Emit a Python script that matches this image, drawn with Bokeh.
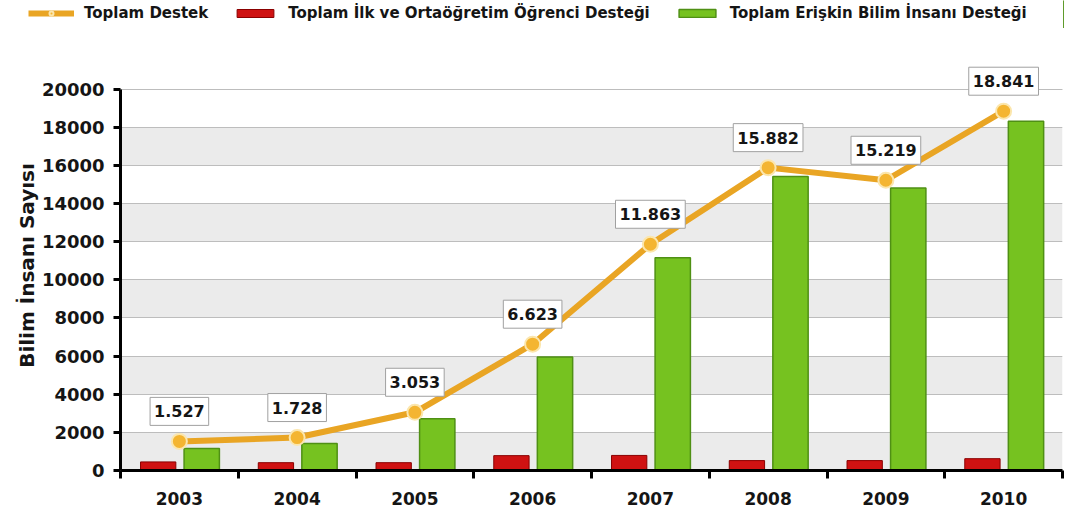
from bokeh.plotting import figure
from bokeh.layouts import column
from bokeh.models import (ColumnDataSource, Range1d, FixedTicker, Legend, LegendItem)
from bokeh.core.properties import value
from bokeh.transform import dodge
from bokeh.embed import file_html
from bokeh.resources import INLINE

years = ["2003", "2004", "2005", "2006", "2007", "2008", "2009", "2010"]
total = [1527, 1728, 3053, 6623, 11863, 15882, 15219, 18841]
student = [450, 410, 410, 780, 790, 520, 520, 620]
adult = [1150, 1420, 2720, 5950, 11150, 15420, 14820, 18320]
total_labels = [f"{v:,}".replace(",", ".") for v in total]
y_ticks = list(range(0, 20001, 2000))
series_names = ["Toplam Destek", "Toplam İlk ve Ortaöğretim Öğrenci Desteği",
                "Toplam Erişkin Bilim İnsanı Desteği"]

xs = [i + 0.5 for i in range(len(years))]
src = ColumnDataSource(dict(x=xs, total=total, student=student, adult=adult, lab=total_labels))

FONT = "DejaVu Sans"
ORANGE, ORANGE_PT, ORANGE_EDGE = "#e9a524", "#f4b531", "#fbe6ad"
RED, RED_EDGE = "#cf1212", "#8a0000"
GREEN, GREEN_EDGE = "#76c220", "#4f9014"


def draw_series(fig):
    r_red = fig.vbar(x=dodge("x", -0.18, range=fig.x_range), top="student", width=0.3, source=src,
                     fill_color=RED, line_color=RED_EDGE, line_width=1)
    r_green = fig.vbar(x=dodge("x", 0.19, range=fig.x_range), top="adult", width=0.3, source=src,
                       fill_color=GREEN, line_color=GREEN_EDGE, line_width=1.5)
    r_line = fig.line(x="x", y="total", source=src, line_color=ORANGE, line_width=6)
    r_pts = fig.scatter(x="x", y="total", source=src, size=15, fill_color=ORANGE_PT,
                        line_color=ORANGE_EDGE, line_width=2)
    return r_red, r_green, r_line, r_pts


p = figure(width=1064, height=484, output_backend="svg", toolbar_location=None,
           x_range=Range1d(0, len(years)), y_range=Range1d(0, 21500),
           min_border_left=120, min_border_right=2, min_border_top=32, min_border_bottom=42)
p.frame_align = False
p.outline_line_color = None
p.background_fill_color = "white"

# grid (end ticks repeated so the shaded bands start at 0 and stop at 20000)
p.xgrid.grid_line_color = None
p.ygrid.ticker = FixedTicker(ticks=[0] + y_ticks + [20000])
p.ygrid.grid_line_color = "#bdbdbd"
p.ygrid.grid_line_width = 1
p.ygrid.band_fill_color = "#ebebeb"
p.ygrid.band_fill_alpha = 1.0

# axes
p.yaxis.ticker = FixedTicker(ticks=y_ticks)
p.yaxis.bounds = (0, 20000)
p.xaxis.ticker = FixedTicker(ticks=xs, minor_ticks=list(range(0, len(years) + 1)))
p.xaxis.major_label_overrides = {x: y for x, y in zip(xs, years)}
for ax in (p.xaxis[0], p.yaxis[0]):
    ax.axis_line_width = 3
    ax.axis_line_color = "black"
    ax.major_label_text_font = FONT
    ax.major_label_text_font_style = "bold"
    ax.major_label_text_color = "#151515"
p.xaxis.major_label_text_font_size = "17px"
p.yaxis.major_label_text_font_size = "18px"
p.xaxis.major_tick_line_color = None
p.xaxis.minor_tick_line_color = "black"
p.xaxis.minor_tick_line_width = 3
p.xaxis.minor_tick_out = 8
p.xaxis.minor_tick_in = 0
p.xaxis.major_label_standoff = 13
p.yaxis.major_tick_line_width = 3
p.yaxis.major_tick_out = 7
p.yaxis.major_tick_in = 0
p.yaxis.minor_tick_line_color = None
p.yaxis.major_label_standoff = 9
p.yaxis.axis_label = "Bilim İnsanı Sayısı"
p.yaxis.axis_label_text_font = FONT
p.yaxis.axis_label_text_font_style = "bold"
p.yaxis.axis_label_text_font_size = "20px"
p.yaxis.axis_label_text_color = "#151515"
p.yaxis.axis_label_standoff = 0

draw_series(p)

p.text(x="x", y="total", text="lab", source=src, y_offset=-30,
       text_align="center", text_baseline="middle",
       text_font=value(FONT), text_font_style="bold", text_font_size="16px",
       text_color="#151515", background_fill_color="white",
       border_line_color="#a0a0a0", border_line_width=1, padding=(4, 8))

# legend strip above the chart (its glyphs fall outside its view; only the legend shows)
lf = figure(width=1064, height=28, output_backend="svg", toolbar_location=None,
            x_range=Range1d(-100, -99), y_range=Range1d(0, 1),
            x_axis_location=None, y_axis_location=None,
            min_border=0, min_border_left=0, min_border_right=0, min_border_top=0, min_border_bottom=0)
lf.frame_align = False
lf.grid.visible = False
lf.outline_line_color = None
l_red, l_green, l_line, l_pts = draw_series(lf)

legend = Legend(items=[
    LegendItem(label=series_names[0], renderers=[l_line, l_pts]),
    LegendItem(label=series_names[1], renderers=[l_red]),
    LegendItem(label=series_names[2], renderers=[l_green]),
], orientation="horizontal", location=(28, 6))
legend.label_text_font = FONT
legend.label_text_font_style = "bold"
legend.label_text_font_size = "15px"
legend.label_text_color = "#151515"
legend.glyph_width = 46
legend.glyph_height = 10
legend.spacing = 24
legend.label_standoff = 10
legend.padding = 0
legend.margin = 0
legend.border_line_color = None
legend.background_fill_alpha = 0
lf.add_layout(legend, "center")

layout = column(lf, p, spacing=0)
open("out.html", "w").write(file_html(layout, INLINE))
